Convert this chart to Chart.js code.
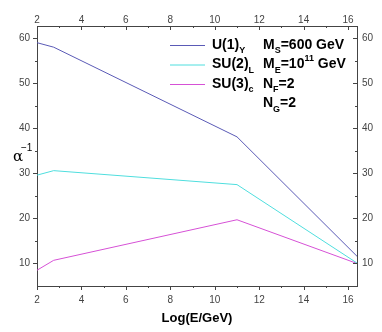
<!DOCTYPE html>
<html>
<head>
<meta charset="utf-8">
<script src="https://cdn.jsdelivr.net/npm/chart.js@4/dist/chart.umd.min.js"></script>
<style>
  body { margin: 0; background: #fff; }
  #wrap { width: 382px; height: 332px; position: relative; }
</style>
</head>
<body>
<div id="wrap"><canvas id="alpha-chart"></canvas></div>
<script>
// data
var logE = [2, 2.75, 11, 16.4];
var u1 = [59, 58, 38.1, 11.6];
var su2 = [29.6, 30.6, 27.5, 10.1];
var su3 = [8.5, 10.7, 19.7, 10.0];

var xTicks = [2, 4, 6, 8, 10, 12, 14, 16];
var yTicks = [10, 20, 30, 40, 50, 60];
var xMinor = [3, 5, 7, 9, 11, 13, 15];
var yMinor = [15, 25, 35, 45, 55];

var seriesNames = ['U(1)', 'SU(2)', 'SU(3)'];
var seriesSubs = ['Y', 'L', 'c'];
var seriesColors = ['#5a5ab6', '#4fdede', '#d651d6'];

function pts(ys) {
  return logE.map(function(x, i) { return { x: x, y: ys[i] }; });
}

var axisColor = '#444';
var tickFont = { family: 'Liberation Sans, Arial', size: 10 };

// draw text runs with sub/superscripts
function drawRich(ctx, x, y, parts, size) {
  parts.forEach(function(p) {
    var fs = p[1] === 'n' ? size : Math.round(size * 0.62);
    var dy = p[1] === 'sub' ? size * 0.4 : (p[1] === 'sup' ? -size * 0.42 : 0);
    ctx.font = 'bold ' + fs + 'px "Liberation Sans", Arial';
    ctx.fillText(p[0], x, y + dy);
    x += ctx.measureText(p[0]).width;
  });
}

var decor = {
  id: 'decor',
  afterDraw: function(chart) {
    var ctx = chart.ctx;
    var a = chart.chartArea;
    var sx = chart.scales.x, sy = chart.scales.y;
    ctx.save();
    ctx.strokeStyle = axisColor;
    ctx.lineWidth = 1;
    function tickX(v, len) {
      var px = Math.round(sx.getPixelForValue(v)) + 0.5;
      ctx.beginPath();
      ctx.moveTo(px, a.bottom); ctx.lineTo(px, a.bottom + len);
      ctx.moveTo(px, a.top); ctx.lineTo(px, a.top + len);
      ctx.stroke();
    }
    function tickY(v, len) {
      var py = Math.round(sy.getPixelForValue(v)) + 0.5;
      ctx.beginPath();
      ctx.moveTo(a.left, py); ctx.lineTo(a.left - len, py);
      ctx.moveTo(a.right, py); ctx.lineTo(a.right - len, py);
      ctx.stroke();
    }
    xTicks.forEach(function(v) { tickX(v, 4); });
    xMinor.forEach(function(v) { tickX(v, 2); });
    yTicks.forEach(function(v) { tickY(v, 4); });
    yMinor.forEach(function(v) { tickY(v, 2); });

    // legend
    ctx.fillStyle = '#000';
    ctx.textBaseline = 'middle';
    ctx.textAlign = 'left';
    var rows = [45, 64.5, 84, 103.5];
    seriesNames.forEach(function(n, i) {
      ctx.strokeStyle = seriesColors[i];
      ctx.beginPath();
      ctx.moveTo(170, rows[i] + 0.5); ctx.lineTo(205, rows[i] + 0.5);
      ctx.stroke();
      drawRich(ctx, 212, rows[i], [[n, 'n'], [seriesSubs[i], 'sub']], 14);
    });
    drawRich(ctx, 263, rows[0], [['M', 'n'], ['S', 'sub'], ['=600 GeV', 'n']], 14);
    drawRich(ctx, 263, rows[1], [['M', 'n'], ['E', 'sub'], ['=10', 'n'], ['11', 'sup'], [' GeV', 'n']], 14);
    drawRich(ctx, 263, rows[2], [['N', 'n'], ['F', 'sub'], ['=2', 'n']], 14);
    drawRich(ctx, 263, rows[3], [['N', 'n'], ['G', 'sub'], ['=2', 'n']], 14);

    // axis titles
    ctx.textAlign = 'center';
    ctx.font = 'bold 13px "Liberation Sans", Arial';
    ctx.fillText('Log(E/GeV)', (a.left + a.right) / 2, 318);
    ctx.textAlign = 'left';
    ctx.font = '15px "DejaVu Serif", serif';
    ctx.fillText('\u03b1', 13, 157);
    ctx.font = '10px "Liberation Sans", Arial';
    ctx.fillText('\u22121', 21, 148);
    ctx.restore();
  }
};

function fixedTicks(list) {
  return function(scale) {
    scale.ticks = list.map(function(v) { return { value: v }; });
  };
}

var gridOpts = { display: true, drawOnChartArea: false, drawTicks: false };
var borderOpts = { display: true, color: axisColor, width: 1 };

new Chart(document.getElementById('alpha-chart'), {
  type: 'line',
  data: {
    datasets: [
      { label: 'U(1)Y', data: pts(u1), borderColor: seriesColors[0] },
      { label: 'SU(2)L', data: pts(su2), borderColor: seriesColors[1] },
      { label: 'SU(3)c', data: pts(su3), borderColor: seriesColors[2] }
    ]
  },
  options: {
    responsive: true,
    maintainAspectRatio: false,
    animation: false,
    layout: { padding: 0 },
    elements: {
      line: { borderWidth: 1, tension: 0, fill: false },
      point: { radius: 0 }
    },
    plugins: { legend: { display: false }, tooltip: { enabled: false } },
    scales: {
      x: {
        type: 'linear', position: 'bottom', min: 2, max: 16.4,
        afterBuildTicks: fixedTicks(xTicks),
        afterFit: function(s) { s.height = 46; },
        grid: gridOpts, border: borderOpts,
        ticks: { font: tickFont, color: '#444', padding: 8, maxRotation: 0 }
      },
      x2: {
        type: 'linear', position: 'top', min: 2, max: 16.4,
        afterBuildTicks: fixedTicks(xTicks),
        afterFit: function(s) { s.height = 26; },
        grid: gridOpts, border: borderOpts,
        ticks: { font: tickFont, color: '#444', padding: 0, maxRotation: 0 }
      },
      y: {
        type: 'linear', position: 'left', min: 5, max: 62.7,
        afterBuildTicks: fixedTicks(yTicks),
        afterFit: function(s) { s.width = 37; },
        grid: gridOpts, border: borderOpts,
        ticks: { font: tickFont, color: '#444', padding: 7 }
      },
      y2: {
        type: 'linear', position: 'right', min: 5, max: 62.7,
        afterBuildTicks: fixedTicks(yTicks),
        afterFit: function(s) { s.width = 25; },
        grid: gridOpts, border: borderOpts,
        ticks: { font: tickFont, color: '#444', padding: 5 }
      }
    }
  },
  plugins: [decor]
});
</script>
</body>
</html>
